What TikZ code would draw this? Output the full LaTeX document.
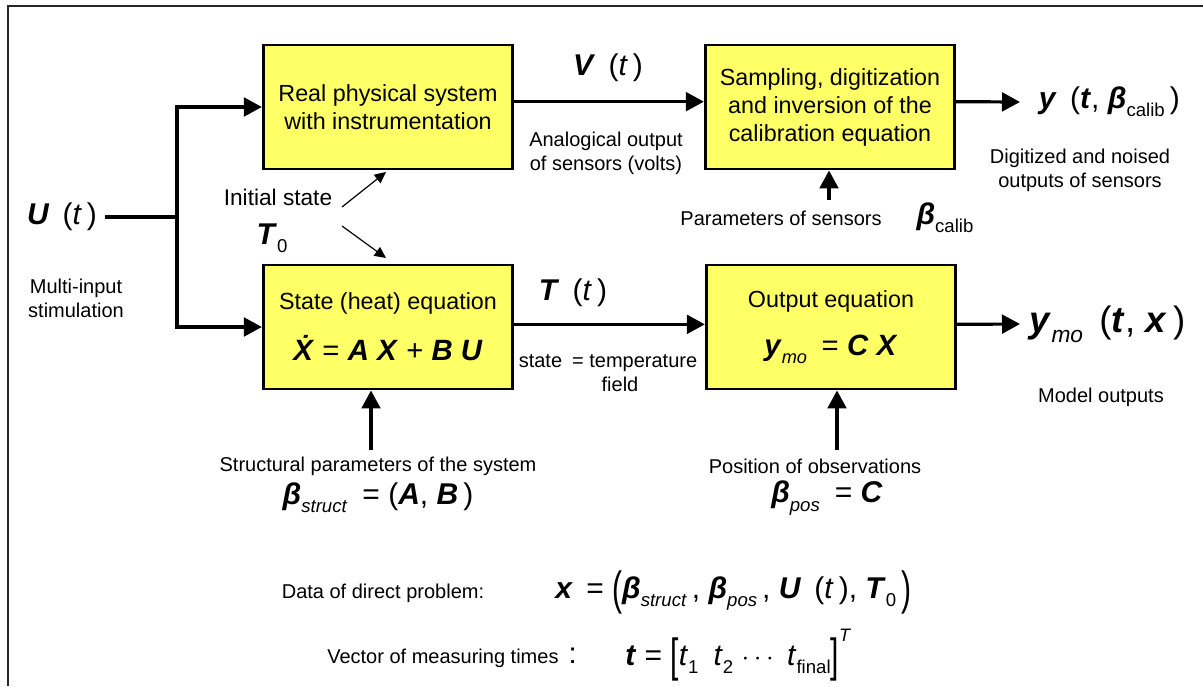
\documentclass[tikz,border=0pt]{standalone}
\usepackage{fontspec}
\setmainfont{Liberation Sans}
\usepackage{graphicx}
\usetikzlibrary{positioning,calc,arrows.meta}
\definecolor{BoxYellow}{RGB}{255,255,102}
\newcommand\bi[1]{\textbf{\textit{#1}}}
\newcommand\lo[1]{\raisebox{-0.28em}{\scalebox{0.62}{#1}}}
\newcommand\tall[1]{\raisebox{-0.2em}{\scalebox{1}[1.55]{#1}}}
\tikzset{
  blk/.style={draw=black,fill=BoxYellow,line width=2.2pt,minimum width=187pt,
    minimum height=93pt,align=center,font=\fontsize{17.5}{21}\selectfont},
  sig/.style={draw=black,line width=2.4pt,-{Triangle[length=13.5pt,width=14pt]}},
  wire/.style={draw=black,line width=2.4pt},
  thin/.style={draw=black,line width=0.9pt,-{Triangle[length=8.5pt,width=8pt]}},
  lbl/.style={align=center,inner sep=0pt,font=\fontsize{15}{18}\selectfont},
  sym/.style={inner sep=0pt,font=\fontsize{22.5}{26}\selectfont},
}

\begin{document}
\begin{tikzpicture}[x=0.75pt,y=-0.75pt]
\useasboundingbox (0,0) rectangle (1203,686);
% frame
\draw[black!85,line width=2pt] (8,686) -- (8,6) -- (1203,6);

% blocks
\node[blk] (phys) at (388,107) {Real physical system\\with instrumentation};
\node[blk] (samp) at (830,107) {Sampling, digitization\\and inversion of the\\calibration equation};
\node[blk] (heat) at (388,327) {State (heat) equation\\[15pt]{\fontsize{22}{26}\selectfont\bi{Ẋ} = \bi{A} \bi{X} + \bi{B} \bi{U}}};
\node[blk] (outeq) at (831,327) {Output equation\\[15pt]{\fontsize{22}{26}\selectfont\bi{y}\lo{\textit{mo}}\enspace = \bi{C} \bi{X}}};

% input
\node[sym] (uin) at (62,217) {\bi{U} \,(\textit{t}\,)};
\node[lbl] (multi) at (76,298) {Multi-input\\stimulation};
\coordinate (split) at (177,217);
\draw[wire,shorten <=6pt] (uin) -- (split);
\draw[sig] (split) |- (phys.west);
\draw[sig] (split) |- (heat.west);

% initial state
\node[inner sep=0pt,font=\fontsize{17}{20}\selectfont] (init) at (278,197) {Initial state};
\node[sym] (T0) at (272,238) {\bi{T}\lo{0}};
\coordinate (i1) at (342,207);
\coordinate (i1e) at (386,172);
\coordinate (i2) at (342,226);
\coordinate (i2e) at (386,258);
\draw[thin] (i1) -- (i1e);
\draw[thin] (i2) -- (i2e);

% upper chain
\draw[sig] ([yshift=4pt]phys.east) -- ([yshift=4pt]samp.west);
\node[sym] (vt) at (608,68) {\bi{V} \,(\textit{t}\,)};
\node[lbl] (anal) at (606,153) {Analogical output\\of sensors (volts)};
\node[sym,anchor=west,inner xsep=14pt] (yout) at (1020,102) {\bi{y} \,(\bi{t}, \bi{β}\lo{calib}\,)};
\draw[sig] ([yshift=4pt]samp.east) -- (yout.west);
\node[lbl] (digi) at (1080,170) {Digitized and noised\\outputs of sensors};
\node[lbl] (psens) at (781,218) {Parameters of sensors};
\node[sym] (bcal) at (945,218) {\bi{β}\lo{calib}};
\coordinate (pin) at (829,200);
\draw[sig] (pin) -- (pin |- samp.south);

% lower chain
\draw[sig] ([yshift=2pt]heat.east) -- ([yshift=2pt]outeq.west);
\node[sym] (Tt) at (573,293) {\bi{T} \,(\textit{t}\,)};
\node[lbl] (state) at (608,373) {state\enspace = temperature\\\hspace*{1.2em}field};
\node[sym,anchor=west,inner xsep=7pt,font=\fontsize{27.5}{32}\selectfont] (ymo) at (1020,324) {\bi{y}\lo{\textit{mo}} \,(\bi{t}, \bi{x}\,)};
\draw[sig] ([yshift=2pt]outeq.east) -- (ymo.west);
\node[lbl] (mout) at (1101,397) {Model outputs};

% parameters
\coordinate (sin) at (371,450);
\draw[sig] (sin) -- (sin |- heat.south);
\node[lbl] (spar) at (378,466) {Structural parameters of the system};
\node[sym] (bstr) at (378,498) {\bi{β}\lo{\textit{struct}}\enspace = (\bi{A}, \bi{B}\,)};
\coordinate (pos) at (837,450);
\draw[sig] (pos) -- (pos |- outeq.south);
\node[lbl] (ppos) at (815,466) {Position of observations};
\node[sym] (bpos) at (827,498) {\bi{β}\lo{\textit{pos}}\enspace = \bi{C}};

% problem data
\node[lbl] (data) at (383,593) {Data of direct problem:};
\node[sym,anchor=west] (xdef) at (555,592) {\bi{x}\, = \tall{(}\bi{β}\lo{\textit{struct}}\,, \bi{β}\lo{\textit{pos}}\,, \bi{U} \,(\textit{t}\,), \bi{T}\lo{0}\,\tall{)}};
\node[lbl] (vec) at (452,658) {Vector of measuring times\enspace{\fontsize{22}{26}\selectfont:}};
\node[sym,anchor=west] (tdef) at (625,655) {\bi{t} = \tall{[}\textit{t}\lo{1}\enspace\textit{t}\lo{2} $\cdots$\, \textit{t}\lo{final}\tall{]}\raisebox{0.8em}{\scalebox{0.6}{\textit{T}}}};
\end{tikzpicture}
\end{document}
